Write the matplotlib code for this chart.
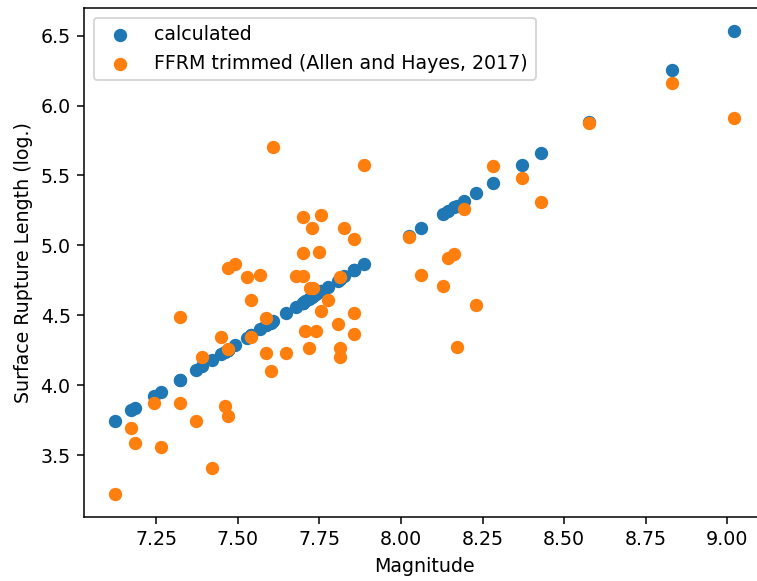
import numpy as np
import matplotlib
matplotlib.use("Agg")
import matplotlib.pyplot as plt

# magnitudes (one per event)
magnitude = [7.123, 7.173, 7.184, 7.243, 7.263, 7.322, 7.322, 7.372, 7.389, 7.420,
             7.448, 7.459, 7.469, 7.469, 7.470, 7.491, 7.528, 7.539, 7.539, 7.569,
             7.587, 7.587, 7.600, 7.608, 7.646, 7.677, 7.699, 7.698, 7.698, 7.707,
             7.717, 7.722, 7.730, 7.726, 7.740, 7.749, 7.755, 7.755, 7.776, 7.806,
             7.814, 7.814, 7.814, 7.826, 7.857, 7.857, 7.857, 7.886, 8.025, 8.062,
             8.128, 8.143, 8.163, 8.171, 8.194, 8.231, 8.281, 8.370, 8.428, 8.576,
             8.832, 9.021]

# calculated log rupture length
calculated = [3.747, 3.820, 3.837, 3.923, 3.952, 4.039, 4.039, 4.112, 4.137, 4.183,
              4.224, 4.240, 4.255, 4.255, 4.256, 4.287, 4.341, 4.357, 4.357, 4.401,
              4.428, 4.428, 4.447, 4.459, 4.514, 4.560, 4.592, 4.591, 4.591, 4.604,
              4.619, 4.626, 4.638, 4.632, 4.652, 4.666, 4.674, 4.674, 4.705, 4.749,
              4.761, 4.761, 4.761, 4.778, 4.824, 4.824, 4.824, 4.867, 5.070, 5.125,
              5.222, 5.244, 5.273, 5.285, 5.318, 5.373, 5.446, 5.577, 5.662, 5.879,
              6.255, 6.532]

# FFRM trimmed values (Allen and Hayes, 2017)
ffrm = [3.224, 3.693, 3.590, 3.871, 3.557, 3.871, 4.486, 3.745, 4.200, 3.411,
        4.345, 3.854, 3.783, 4.257, 4.836, 4.866, 4.771, 4.609, 4.343, 4.788,
        4.483, 4.233, 4.100, 5.704, 4.229, 4.783, 4.783, 5.200, 4.943, 4.385,
        4.264, 4.693, 4.693, 5.124, 4.385, 4.950, 5.221, 4.531, 4.611, 4.436,
        4.776, 4.269, 4.199, 5.124, 5.044, 4.514, 4.365, 5.574, 5.057, 4.788,
        4.709, 4.907, 4.938, 4.276, 5.259, 4.574, 5.569, 5.479, 5.310, 5.875,
        6.164, 5.911]

dpi = 137
fig = plt.figure(figsize=(757 / dpi, 581 / dpi), dpi=dpi)
# the right spine sits just past the image edge in the reference
ax = fig.add_axes([84 / 757, 1 - 517 / 581, 681 / 757, (517 - 8) / 581])

ax.scatter(magnitude, calculated, label='calculated')
ax.scatter(magnitude, ffrm, label='FFRM trimmed (Allen and Hayes, 2017)')
ax.set_xlabel('Magnitude')
ax.set_ylabel('Surface Rupture Length (log.)')
ax.legend(loc='upper left')

fig.savefig('out.png', dpi=dpi)
